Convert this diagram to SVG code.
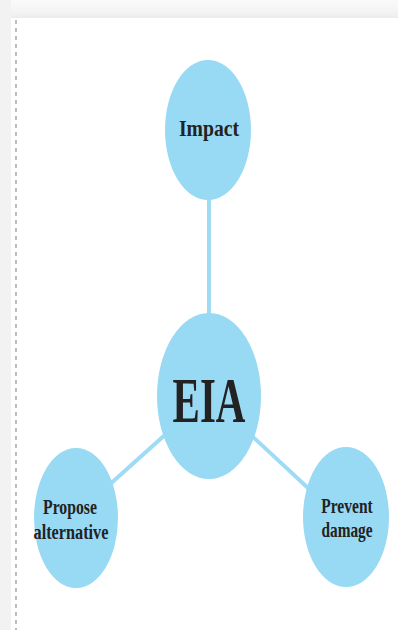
<svg xmlns="http://www.w3.org/2000/svg" width="398" height="630" viewBox="0 0 398 630">
<defs>
<linearGradient id="topg" x1="0" y1="0" x2="0" y2="1">
<stop offset="0" stop-color="#fafafa"/>
<stop offset="0.7" stop-color="#f3f3f3"/>
<stop offset="1" stop-color="#ebebeb"/>
</linearGradient>
</defs>
<style>
.node{fill:#98d9f4;}
.conn{stroke:#9fdbf5;stroke-width:4;fill:none;}
.lbl{font-family:"Liberation Serif","DejaVu Serif",serif;font-weight:bold;fill:#222;text-anchor:middle;}
</style>
<rect x="0" y="0" width="398" height="630" fill="#ffffff"/>
<rect x="0" y="0" width="398" height="18" fill="url(#topg)"/>
<rect x="0" y="0" width="11" height="630" fill="#f2f2f2"/>
<line x1="16" y1="20" x2="16" y2="630" stroke="#bdbdbd" stroke-width="2" stroke-dasharray="4 4"/>
<g id="connectors">
<line class="conn" x1="209" y1="198" x2="209" y2="316"/>
<line class="conn" x1="166" y1="434" x2="108" y2="486"/>
<line class="conn" x1="252" y1="436" x2="308" y2="488"/>
</g>
<g id="impact">
<ellipse class="node" cx="208" cy="130" rx="43" ry="70"/>
<text class="lbl" transform="translate(209,136) scale(0.82,1)" font-size="24">Impact</text>
</g>
<g id="eia">
<ellipse class="node" cx="209" cy="396" rx="52" ry="83"/>
<text class="lbl" transform="translate(209,422) scale(0.64,1)" font-size="64">EIA</text>
</g>
<g id="propose">
<ellipse class="node" cx="76" cy="518" rx="42" ry="70"/>
<text class="lbl" transform="translate(70,514) scale(0.75,1)" font-size="21">Propose</text>
<text class="lbl" transform="translate(71,539) scale(0.775,1)" font-size="21">alternative</text>
</g>
<g id="prevent">
<ellipse class="node" cx="346" cy="517" rx="43" ry="70"/>
<text class="lbl" transform="translate(347,513) scale(0.74,1)" font-size="21">Prevent</text>
<text class="lbl" transform="translate(347,537) scale(0.73,1)" font-size="21">damage</text>
</g>
</svg>
